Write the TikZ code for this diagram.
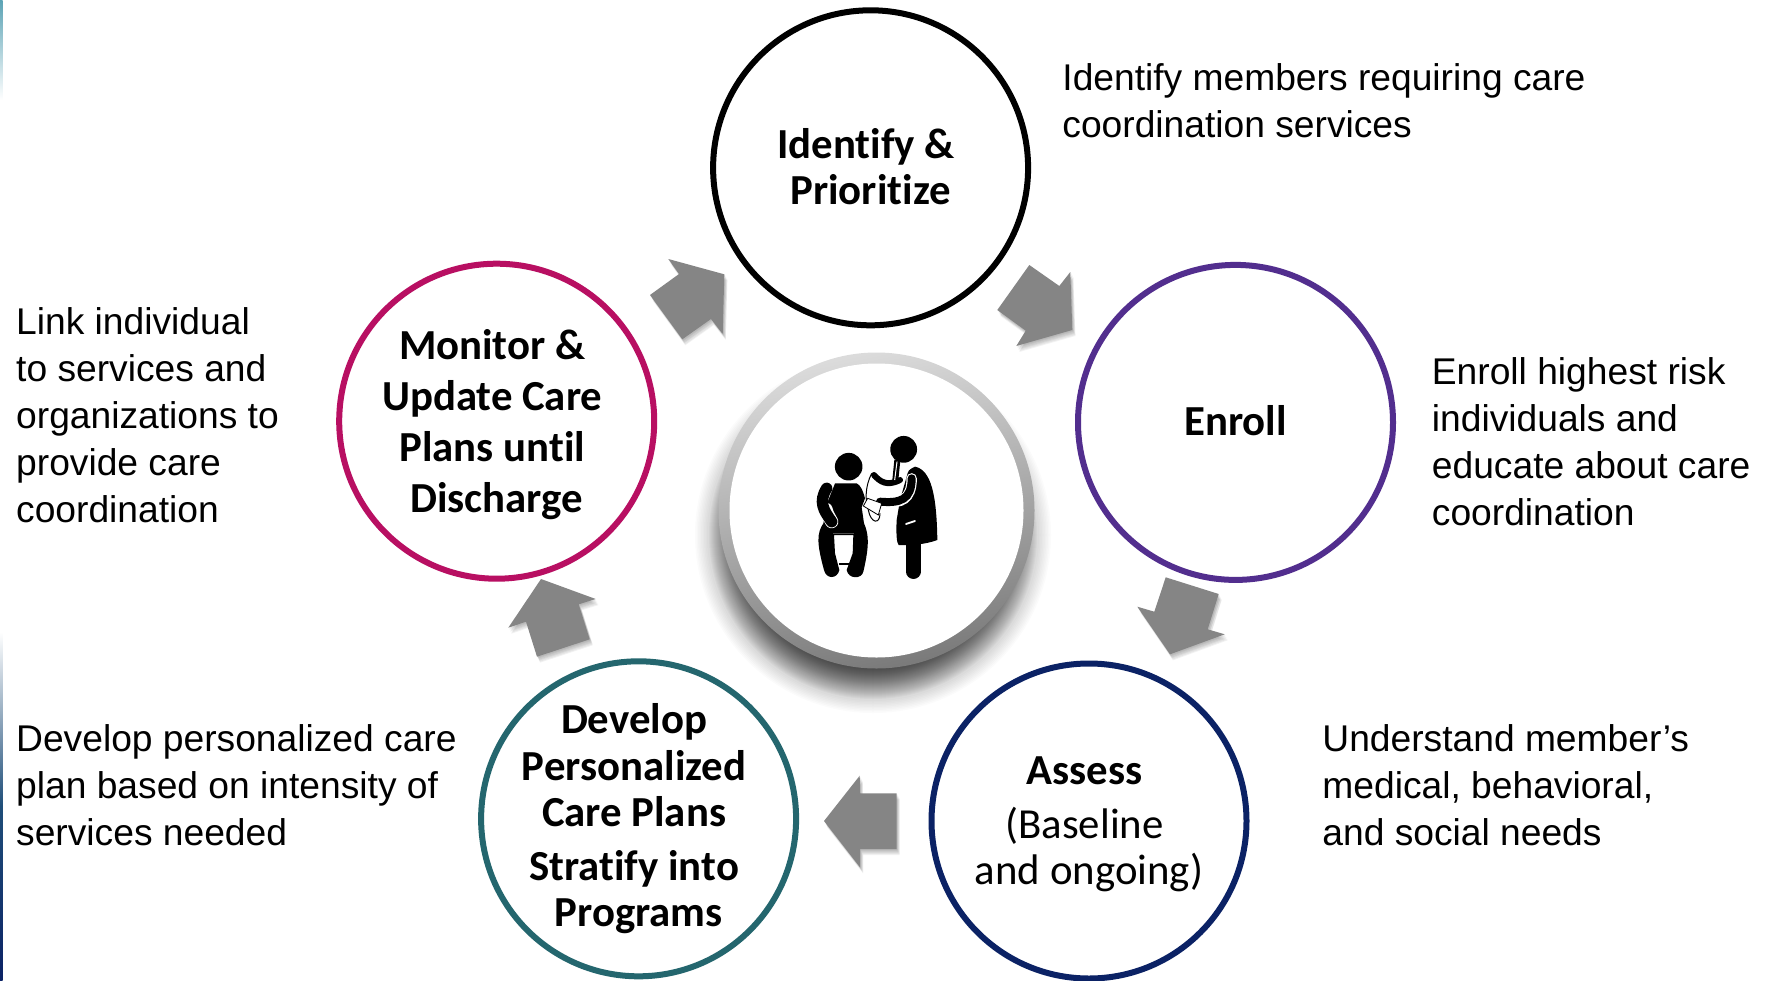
\documentclass[tikz,border=0pt]{standalone}
\usepackage{fontspec}
\setmainfont{Liberation Sans}
\newfontfamily\calfont[Ligatures=CommonOff]{Carlito}
\definecolor{cIdentify}{HTML}{000000}
\definecolor{cEnroll}{HTML}{522E8E}
\definecolor{cAssess}{HTML}{0B2265}
\definecolor{cDevelop}{HTML}{24666E}
\definecolor{cMonitor}{HTML}{B80F62}
\definecolor{cArrow}{HTML}{858585}
\definecolor{cStripA}{HTML}{5BA3B5}
\definecolor{cStripB}{HTML}{1F4E79}
\newcommand{\lpad}{\rule{4.5pt}{0pt}}
\tikzset{
  stage/.style={circle,draw,line width=3pt,fill=white,minimum size=157.5pt,inner sep=-12pt,align=center,
    font=\calfont\bfseries\fontsize{21.4}{23.1}\selectfont,text=black},
  desc/.style={anchor=west,inner sep=0pt,align=left,text=black,font=\fontsize{18.6}{23.5}\selectfont},
}
\newcommand{\gblockarrow}[1]{%
  \foreach \sx/\sy in {1/1,1/2,2/3,2/4,3/5,3/6}{
    \fill[black,opacity=0.05,shift={(\sx,\sy)}] #1 -- cycle;
  }
  \fill[cArrow] #1 -- cycle;
}
\begin{document}
\begin{tikzpicture}[x=0.5pt,y=-0.5pt]
\useasboundingbox (0,0) rectangle (1766,980);
\clip (0,0) rectangle (1766,980);
\fill[white] (0,0) rectangle (1766,980);
% left edge strips
\shade[top color=cStripA,bottom color=white] (0,0) rectangle (2.5,100);
\shade[top color=white,bottom color=cAssess,middle color=cStripB] (0,632) rectangle (2.5,980);
% centre shadow: layers denser towards the middle
\foreach \r in {178,176.5,...,165}{
  \fill[black,opacity=0.016] (873,535) circle[radius=\r*0.5pt];
}
\foreach \r in {164,163,...,153}{
  \fill[black,opacity=0.026] (873,535) circle[radius=\r*0.5pt];
}
\foreach \r in {152,151,...,125}{
  \fill[black,opacity=0.033] (873,535) circle[radius=\r*0.5pt];
}
% centre ring and disc
\shade[top color=black!14,bottom color=black!52,shading angle=12] (876.5,510.5) circle[radius=79pt];
\node[circle,fill=white,minimum size=147pt,inner sep=0pt] (hub) at (876.5,510.5) {};
% icon
\begin{scope}[shift={(800,420)},x=0.16667pt,y=-0.16667pt]
  \fill[black] (146,140) circle[radius=6.9pt];
  \fill[black] (311,88) circle[radius=6.7pt];
  % patient
  \fill[black] (105,190) -- (170,190) .. controls (182,195) and (190,215) .. (195,235) -- (185,262) -- (192,310)
    .. controls (205,340) and (210,370) .. (190,455) .. controls (185,478) and (145,478) .. (140,450)
    -- (158,400) -- (160,345) -- (102,345) -- (105,400) -- (118,450)
    .. controls (112,478) and (78,478) .. (72,450) .. controls (50,370) and (50,340) .. (70,310) -- (85,240) -- cycle;
  \draw[white,line width=6.6pt,line cap=round] (78,268) .. controls (82,285) and (90,295) .. (95,305);
  \draw[black,line width=5.7pt,line cap=round] (80,205) .. controls (55,245) and (70,270) .. (95,305);
  \draw[black!70,line width=0.6pt] (100,340) -- (162,340);
  \draw[black,line width=0.9pt] (118,432) -- (146,432);
  % doctor
  \draw[black,line width=7.3pt,line cap=round] (340,370) -- (340,455);
  \fill[black] (345,140) .. controls (395,150) and (410,230) .. (412,360) .. controls (380,372) and (330,378) .. (296,375)
    .. controls (290,370) and (288,340) .. (290,300) -- (300,240) -- (320,170) .. controls (325,150) .. (345,140);
  \draw[black,line width=3pt,line cap=round] (222,165) .. controls (240,185) and (260,200) .. (300,180);
  \draw[black,line width=3pt] (292,120) -- (285,190);
  \draw[white,line width=0.5pt] (291,125) -- (284,180);
  \draw[white,line width=5.2pt,line cap=round] (335,175) .. controls (335,240) and (300,250) .. (260,245);
  \draw[black,line width=4pt,line cap=round] (335,175) .. controls (335,240) and (300,250) .. (240,245);
  \draw[white,line width=0.9pt,line cap=round] (318,312) -- (345,303);
  \draw[black,line width=0.5pt] (215,160) .. controls (195,200) and (195,240) .. (205,270) .. controls (212,310) and (240,315) .. (240,280);
  \filldraw[fill=white,draw=black,line width=0.4pt] (203,235) -- (245,250) -- (235,285) -- (190,258) -- cycle;
\end{scope}
% stage circles
\node[stage,draw=cIdentify] (identify) at (870.6,167.8) {Identify \&\lpad\\Prioritize\rule[-1.1pt]{0pt}{1pt}};
\node[stage,draw=cEnroll] (enroll) at (1235.5,422.4) {Enroll\rule[-2.3pt]{0pt}{1pt}};
\node[stage,draw=cAssess] (assess) at (1089,821) {\rule{0pt}{17.2pt}Assess\lpad\\[4pt]\mdseries (Baseline\lpad\\\mdseries and ongoing)};
\node[stage,draw=cDevelop] (develop) at (638.6,818.8) {Develop\lpad\\Personalized\lpad\\Care Plans\lpad\\[4pt]Stratify into\lpad\\Programs};
\node[stage,draw=cMonitor,font=\calfont\bfseries\fontsize{21.4}{25.6}\selectfont] (monitor) at (496.7,421.2) {\rule{0pt}{18.6pt}Monitor \&\lpad\\Update Care\lpad\\Plans until\lpad\\Discharge};
% block arrows
\gblockarrow{(668.3,259) -- (724.3,274.3) -- (722.7,334) -- (711,319) -- (682.3,339.3) -- (650,295) -- (679,274)}
\gblockarrow{(1029.3,265) -- (1059.3,286) -- (1070.3,272) -- (1072.3,330) -- (1016.3,346) -- (1025.7,330.7) -- (997.3,310)}
\gblockarrow{(1165.7,577.3) -- (1218.7,594) -- (1207.7,629.3) -- (1224.7,634.3) -- (1170,654.3) -- (1137.3,606.7) -- (1154.3,611.7)}
\gblockarrow{(859.7,775.7) -- (860,793.3) -- (896.7,793.3) -- (896.7,849) -- (860,849) -- (860,867.3) -- (824,821)}
\gblockarrow{(541,579) -- (595.7,599) -- (578.7,604.3) -- (589.7,639.3) -- (537,656.7) -- (526,621.7) -- (508.3,627.7)}
% descriptions
\node[desc] (tidentify) at (1062,100.8) {Identify members requiring care\\coordination services};
\node[desc] (tenroll) at (1431.5,442) {Enroll highest risk\\individuals and\\educate about care\\coordination};
\node[desc] (tassess) at (1322,785.6) {Understand member’s\\medical, behavioral,\\and social needs};
\node[desc] (tdevelop) at (15.8,785.6) {Develop personalized care\\plan based on intensity of\\services needed};
\node[desc] (tmonitor) at (15.8,415) {Link individual\\to services and\\organizations to\\provide care\\coordination};
\end{tikzpicture}
\end{document}
